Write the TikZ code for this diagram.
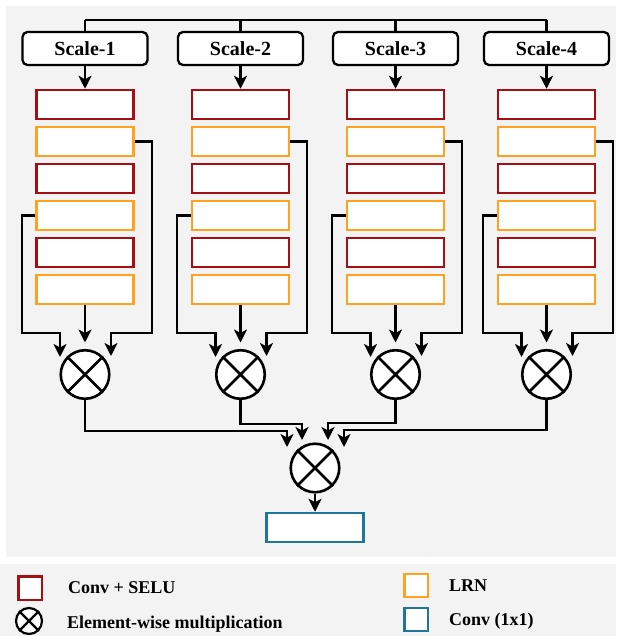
\documentclass[tikz,border=0pt]{standalone}
\usepackage{fontspec}
\setmainfont{Liberation Serif}
\usetikzlibrary{arrows.meta}

\definecolor{selured}{HTML}{A30F12}
\definecolor{lrnorange}{HTML}{FFA21F}
\definecolor{convteal}{HTML}{1F7698}
\definecolor{panelgray}{HTML}{F3F3F3}

\tikzset{
	arr/.style={-{Stealth[length=13pt,width=13pt,inset=3.5pt]}},
	wire/.style={line width=2.3pt},
	scalebox/.style={draw,line width=2.3pt,rounded corners=5pt,fill=white,minimum width=125pt,minimum height=33pt,inner sep=0pt,font=\fontsize{20}{24}\selectfont\bfseries},
	layerbox/.style={draw,line width=2.5pt,fill=white,minimum width=97pt,minimum height=29pt,inner sep=0pt},
	convbox/.style={layerbox,draw=selured},
	lrnbox/.style={layerbox,draw=lrnorange},
	onebyone/.style={layerbox,draw=convteal},
	mult/.style={draw,circle,line width=2.6pt,fill=white,minimum size=48.5pt,inner sep=0pt},
	legtext/.style={anchor=base west,inner sep=0pt,font=\fontsize{18}{22}\selectfont\bfseries}
}

\begin{document}
\begin{tikzpicture}[x=1pt,y=-1pt]
	\useasboundingbox (0,0) rectangle (616,636);
	
	% Draw background panels
	\fill[panelgray] (6,6) rectangle (616,557);
	\fill[panelgray] (0,564) rectangle (616,636);
	
	% Draw input bus
	\coordinate (bus1) at (85,20);
	\coordinate (bus4) at (547,20);
	\draw[wire] (bus1) -- (bus4);
	
	% Draw the four scale branches
	\foreach \i/\cx in {1/85,2/240.5,3/395.5,4/546.5}{
		\node[scalebox] (s\i) at (\cx,48.5) {Scale-\i};
		\draw[wire] (s\i.north |- bus1) -- (s\i.north);
		
		\node[convbox] (a\i) at (\cx,104.5) {};
		\node[lrnbox] (b\i) at (\cx,141.5) {};
		\node[convbox] (c\i) at (\cx,178.5) {};
		\node[lrnbox] (d\i) at (\cx,215.5) {};
		\node[convbox] (e\i) at (\cx,252.5) {};
		\node[lrnbox] (f\i) at (\cx,289.5) {};
		\draw[wire,arr] (s\i.south) -- (a\i.north);
		
		\node[mult] (m\i) at (\cx,374.5) {};
		\draw[line width=2.6pt] (m\i.north west) -- (m\i.south east) (m\i.north east) -- (m\i.south west);
		
		\draw[wire,arr] (f\i.south) -- ([yshift=32pt]m\i.center);
		\draw[wire,arr] (b\i.east) -- ++(17,0) |- ([xshift=26pt,yshift=41.5pt]m\i.center) -- ([xshift=26pt,yshift=18.5pt]m\i.center);
		\draw[wire,arr] (d\i.west) -- ++(-13.5,0) |- ([xshift=-25pt,yshift=41.5pt]m\i.center) -- ([xshift=-25pt,yshift=17.5pt]m\i.center);
	}
	
	% Draw final multiplication and 1x1 conv
	\node[mult] (fm) at (315,468) {};
	\draw[line width=2.6pt] (fm.north west) -- (fm.south east) (fm.north east) -- (fm.south west);
	\node[onebyone] (out) at (315,527.5) {};
	\draw[wire,arr] (m1.south) |- ([xshift=-28pt,yshift=37pt]fm.center) -- ([xshift=-28pt,yshift=21pt]fm.center);
	\draw[wire,arr] (m2.south) |- ([xshift=-13pt,yshift=44pt]fm.center) -- ([xshift=-13pt,yshift=28pt]fm.center);
	\draw[wire,arr] (m3.south) |- ([xshift=13pt,yshift=45pt]fm.center) -- ([xshift=13pt,yshift=28pt]fm.center);
	\draw[wire,arr] (m4.south) |- ([xshift=29pt,yshift=38pt]fm.center) -- ([xshift=29pt,yshift=21pt]fm.center);
	\draw[wire,arr] (fm.south) -- (out.north);
	
	% Draw legend
	\node[convbox,minimum width=23.5pt,minimum height=23.5pt] (lconv) at (30,588) {};
	\node[mult,minimum size=26pt,line width=2.2pt] (lmult) at (29,621) {};
	\draw[line width=2.2pt] (lmult.north west) -- (lmult.south east) (lmult.north east) -- (lmult.south west);
	\node[lrnbox,minimum width=23.5pt,minimum height=23pt] (llrn) at (416,585.5) {};
	\node[onebyone,minimum width=23.5pt,minimum height=23pt] (lone) at (416,619.5) {};
	\node[legtext] (tconv) at (68,593) {Conv + SELU};
	\node[legtext] (tmult) at (67,628) {Element-wise multiplication};
	\node[legtext] (tlrn) at (449,591) {LRN};
	\node[legtext] (tone) at (449,625) {Conv (1x1)};
	
\end{tikzpicture}
\end{document}
